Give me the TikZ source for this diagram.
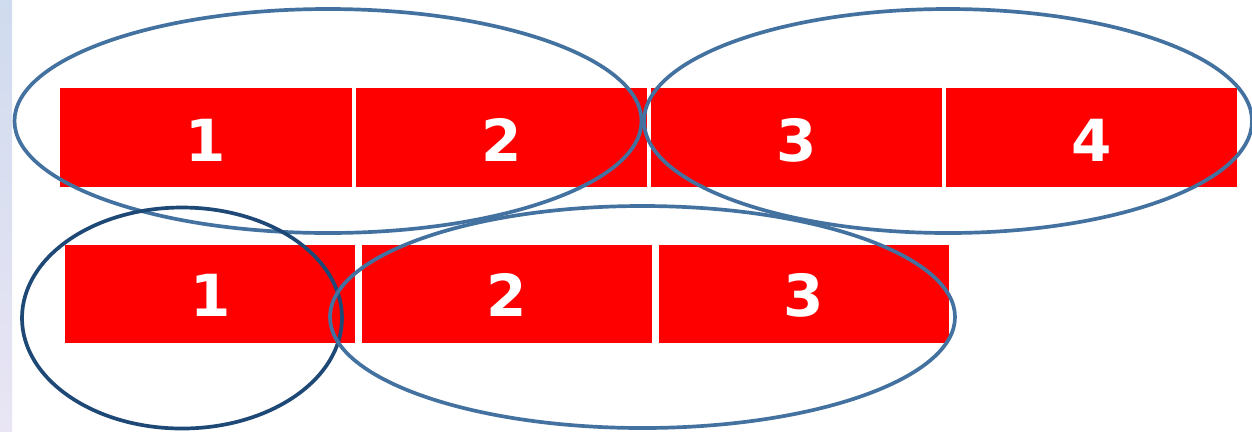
\documentclass[tikz,border=0pt]{standalone}
\usepackage{fontspec}
\setmainfont{DejaVu Sans}
\usepackage{xcolor}
\usetikzlibrary{positioning}

\definecolor{ringblue}{RGB}{68,114,160}
\definecolor{ringdark}{RGB}{30,72,118}
\definecolor{stripTop}{RGB}{207,219,238}
\definecolor{stripBot}{RGB}{233,229,244}

\begin{document}
\begin{tikzpicture}[
	cell/.style={rectangle, fill=red, inner sep=0pt, minimum width=5.83cm, minimum height=1.98cm, text=white, font=\fontsize{33}{33}\selectfont\bfseries, text height=0.96cm, text depth=0cm},
	cellb/.style={cell, minimum width=5.8cm, minimum height=1.96cm, text height=0.9cm},
	group/.style={draw=ringblue, line width=2.1pt},
	groupdark/.style={draw=ringdark, line width=2.1pt}
]

	% Canvas and side strip
	\fill[white] (0,0) rectangle (25.04,-8.62);
	\useasboundingbox (0,0) rectangle (25.04,-8.62);
	\shade[top color=stripTop, bottom color=stripBot] (0,0) rectangle (0.24,-8.62);

	% First row
	\node[cell, anchor=north west] (a1) at (1.2,-1.76) {1};
	\node[cell, right=0.06cm of a1] (a2) {2};
	\node[cell, right=0.06cm of a2] (a3) {3};
	\node[cell, right=0.06cm of a3] (a4) {4};

	% Second row
	\node[cellb, anchor=north west] (b1) at (1.3,-4.9) {1};
	\node[cellb, right=0.12cm of b1] (b2) {2};
	\node[cellb, right=0.12cm of b2] (b3) {3};

	% Groupings
	\draw[group] (6.56,-2.42) ellipse [x radius=6.27cm, y radius=2.24cm];
	\draw[group] (18.96,-2.42) ellipse [x radius=6.08cm, y radius=2.24cm];
	\draw[groupdark] (3.64,-6.36) ellipse [x radius=3.2cm, y radius=2.21cm];
	\draw[group] (12.85,-6.34) ellipse [x radius=6.25cm, y radius=2.22cm];

\end{tikzpicture}
\end{document}
